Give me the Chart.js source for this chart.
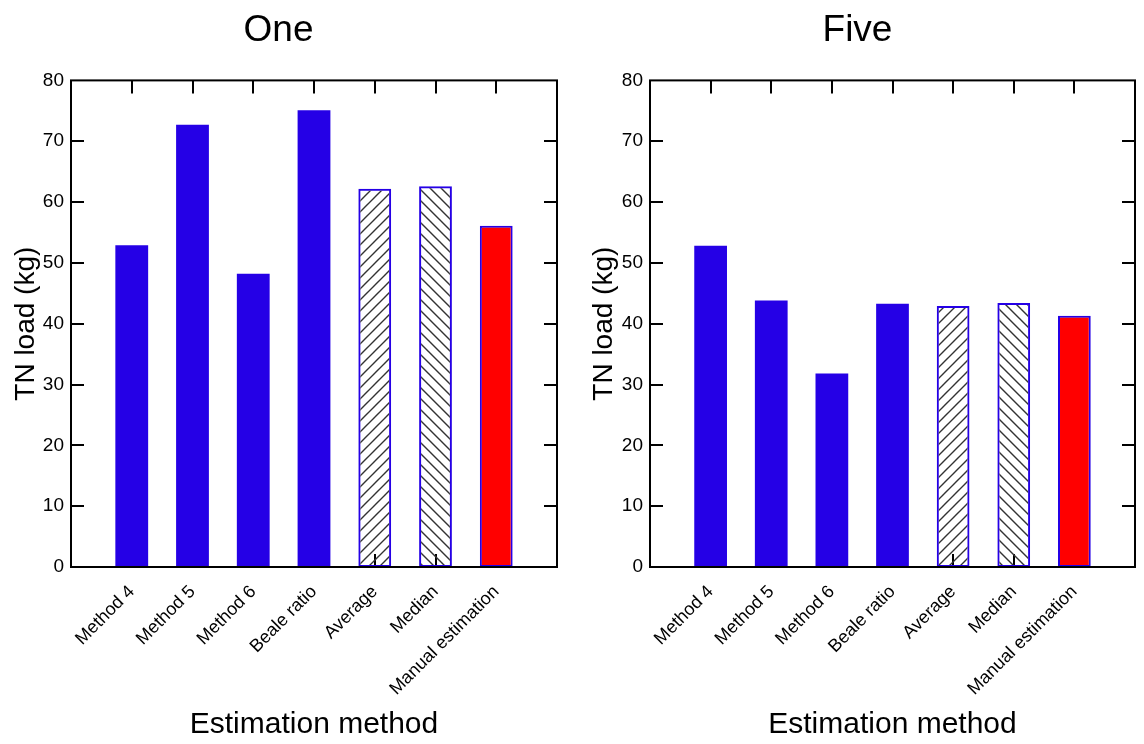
<!DOCTYPE html>
<html>
<head>
<meta charset="utf-8">
<script src="https://cdn.jsdelivr.net/npm/chart.js@4/dist/chart.umd.min.js"></script>
<style>
  html, body { margin: 0; padding: 0; background: #fff; overflow: hidden; }
  #wrap { position: relative; width: 1144px; height: 744px; }
  canvas { position: absolute; top: 0; }
</style>
</head>
<body>
<div id="wrap">
  <canvas id="c1" width="564" height="744" style="left:0px"></canvas>
  <canvas id="c2" width="564" height="744" style="left:580px"></canvas>
</div>
<script>
// ---- data ----
const categories = ['Method 4', 'Method 5', 'Method 6', 'Beale ratio', 'Average', 'Median', 'Manual estimation'];
const oneValues  = [52.9, 72.7, 48.2, 75.1, 62.2, 62.6, 56.1];
const fiveValues = [52.8, 43.8, 31.8, 43.3, 42.9, 43.4, 41.3];
const yMin = 0, yMax = 80, yStep = 10;
const titles = ['One', 'Five'];
const yTitle = 'TN load (kg)';
const xTitle = 'Estimation method';

// ---- styles ----
const FONT = "'Liberation Sans', Arial, Helvetica, sans-serif";
const BLUE = '#2500e6';
const RED = '#ff0000';
Chart.defaults.color = '#000';
Chart.defaults.font.family = FONT;

function hatch(dir) {
  const s = 11;
  const c = document.createElement('canvas');
  c.width = s; c.height = s;
  const g = c.getContext('2d');
  g.strokeStyle = '#333333';
  g.lineWidth = 1.4;
  g.beginPath();
  if (dir === '/') {
    g.moveTo(-1, s + 1); g.lineTo(s + 1, -1);
    g.moveTo(-s / 2 - 1, s / 2 + 1); g.lineTo(s / 2 + 1, -s / 2 - 1);
    g.moveTo(s / 2 - 1, s * 1.5 + 1); g.lineTo(s * 1.5 + 1, s / 2 - 1);
  } else {
    g.moveTo(-1, -1); g.lineTo(s + 1, s + 1);
    g.moveTo(-s / 2 - 1, s / 2 - 1); g.lineTo(s / 2 + 1, s * 1.5 + 1);
    g.moveTo(s / 2 - 1, -s / 2 - 1); g.lineTo(s * 1.5 + 1, s / 2 + 1);
  }
  g.stroke();
  return g.createPattern(c, 'repeat');
}
const hatchUp = hatch('/');
const hatchDown = hatch('\\');

const fills   = [null, BLUE, BLUE, BLUE, BLUE, hatchUp, hatchDown, RED, null];
const borders = [0, 0, 0, 0, 0, 2, 2, 2, 0];

const frameTicks = {
  id: 'frameTicks',
  beforeDatasetsDraw(chart) {
    const { ctx, chartArea: a, scales: { x, y } } = chart;
    const L = 13;
    ctx.save();
    ctx.strokeStyle = '#000';
    ctx.lineWidth = 2;
    ctx.beginPath();
    for (let i = 1; i <= categories.length; i++) {
      const px = Math.round(x.getPixelForTick(i));
      ctx.moveTo(px, a.bottom); ctx.lineTo(px, a.bottom - L);
      ctx.moveTo(px, a.top); ctx.lineTo(px, a.top + L);
    }
    for (let v = yMin + yStep; v < yMax; v += yStep) {
      const py = Math.round(y.getPixelForValue(v));
      ctx.moveTo(a.left, py); ctx.lineTo(a.left + L, py);
      ctx.moveTo(a.right, py); ctx.lineTo(a.right - L, py);
    }
    ctx.stroke();
    ctx.restore();
  },
  afterDatasetsDraw(chart) {
    const { ctx, chartArea: a } = chart;
    ctx.save();
    ctx.strokeStyle = '#000';
    ctx.lineWidth = 2;
    ctx.strokeRect(a.left, a.top, a.right - a.left, a.bottom - a.top);
    ctx.restore();
  }
};

function makeChart(id, title, values, yWidth, padRight, yTitlePad) {
  const labels = [''].concat(categories, ['']);
  const data = [null].concat(values, [null]);
  return new Chart(document.getElementById(id), {
    type: 'bar',
    data: {
      labels: labels,
      datasets: [{
        data: data,
        backgroundColor: fills,
        borderColor: BLUE,
        borderWidth: borders,
        borderSkipped: false,
        barPercentage: 0.54,
        categoryPercentage: 1.0
      }]
    },
    options: {
      responsive: false,
      animation: false,
      events: [],
      layout: { padding: { left: 0, right: padRight, top: 0, bottom: 0 } },
      plugins: {
        legend: { display: false },
        tooltip: { enabled: false },
        title: {
          display: true,
          text: title,
          color: '#000',
          font: { family: FONT, size: 37, weight: 'normal' },
          padding: { top: 9, bottom: 27 }
        }
      },
      scales: {
        x: {
          type: 'category',
          offset: false,
          grid: { display: false, drawTicks: false },
          border: { display: false },
          ticks: {
            autoSkip: false,
            minRotation: 45,
            maxRotation: 45,
            padding: 11,
            color: '#000',
            font: { family: FONT, size: 18, lineHeight: 1.7 }
          },
          title: {
            display: true,
            text: xTitle,
            color: '#000',
            font: { family: FONT, size: 30 },
            padding: { top: 0, bottom: 1 }
          },
          afterFit(scale) {
            scale.height = 744 - 567;
            scale.paddingLeft = 0;
            scale.paddingRight = 0;
          }
        },
        y: {
          min: yMin,
          max: yMax,
          grid: { display: false, drawTicks: false },
          border: { display: false },
          ticks: {
            stepSize: yStep,
            padding: 7,
            color: '#000',
            font: { family: FONT, size: 19 }
          },
          title: {
            display: true,
            text: yTitle,
            color: '#000',
            font: { family: FONT, size: 28 },
            padding: { top: yTitlePad, bottom: 0 }
          },
          afterFit(scale) { scale.width = yWidth; }
        }
      }
    },
    plugins: [frameTicks]
  });
}

makeChart('c1', titles[0], oneValues, 71, 7, 9);
makeChart('c2', titles[1], fiveValues, 70, 9, 7);
</script>
</body>
</html>
